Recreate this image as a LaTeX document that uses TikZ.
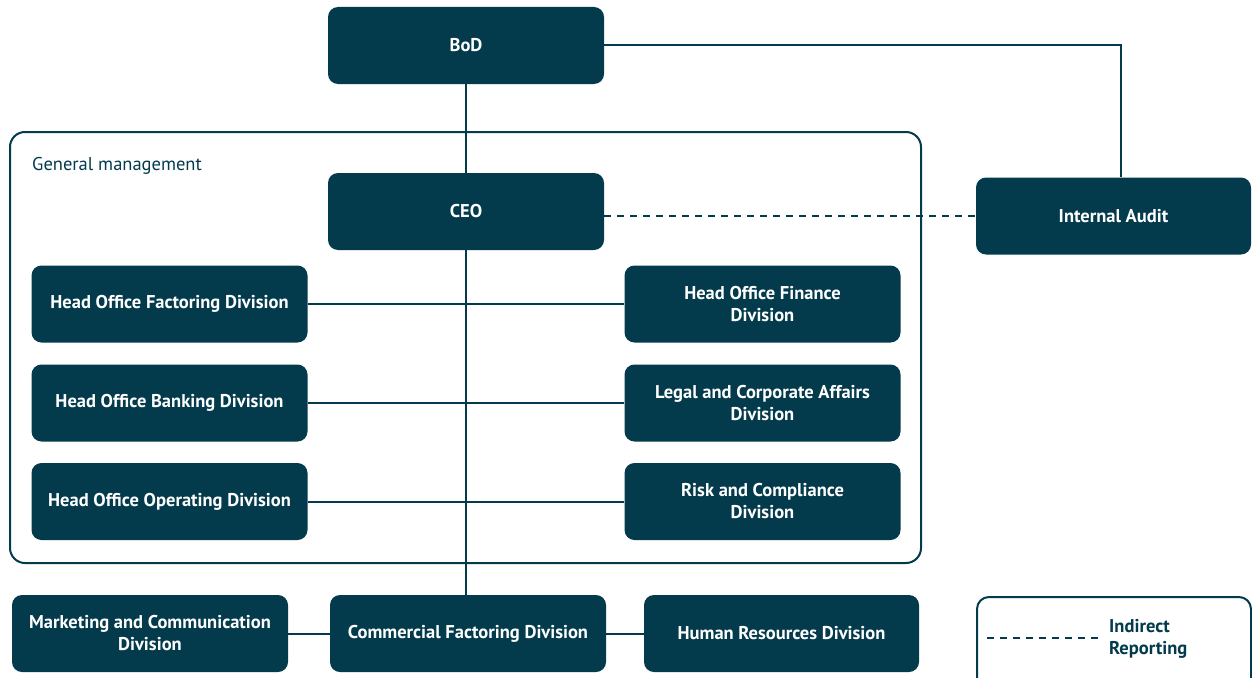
\documentclass[tikz,border=0pt]{standalone}
\usepackage{fontspec}
\setmainfont{PT Sans}
\usepackage{tikz}
\usetikzlibrary{positioning}
\definecolor{boxteal}{HTML}{033B4C}

\begin{document}
\begin{tikzpicture}[x=1pt, y=-1pt,
    unit/.style={rectangle, rounded corners=10pt, fill=boxteal, text=white, font=\fontsize{18.5}{22}\selectfont\bfseries,
                 minimum width=276pt, minimum height=77pt, align=center, inner sep=2pt},
    link/.style={draw=boxteal, line width=2pt},
    indirect/.style={draw=boxteal, line width=2pt, dash pattern=on 7pt off 6pt}]
    \useasboundingbox (0,0) rectangle (1252,677);
    % frame of the general management
    \draw[boxteal, line width=2pt, rounded corners=15pt] (10,132) rectangle (921,563);
    \node[anchor=west, text=boxteal, font=\fontsize{18.5}{22}\selectfont, inner sep=0pt] (gm) at (32,166) {General management};
    % top
    \node[unit] (bod) at (466,45.5) {BoD};
    \node[unit] (ceo) at (466,211.5) {CEO};
    \node[unit, minimum width=275pt] (audit) at (1113.5,216) {Internal Audit};
    % divisions
    \node[unit] (hofact) at (169.5,304) {Head Office Factoring Division};
    \node[unit] (hobank) at (169.5,403) {Head Office Banking Division};
    \node[unit] (hooper) at (169.5,501.5) {Head Office Operating Division};
    \node[unit] (hofin) at (762.5,304) {Head Office Finance\\Division};
    \node[unit] (legal) at (762.5,403) {Legal and Corporate Affairs\\Division};
    \node[unit] (risk) at (762.5,501.5) {Risk and Compliance\\Division};
    \node[unit] (mkt) at (150,633.5) {Marketing and Communication\\Division};
    \node[unit] (comfact) at (468,633.5) {Commercial Factoring Division};
    \node[unit, minimum width=275pt] (hr) at (781.5,633.5) {Human Resources Division};
    \coordinate (spine) at (466,0);
    \coordinate (auditup) at (1121,0);
    % links
    \draw[link] (bod.south) -- (ceo.north);
    \draw[link] (ceo.south) -- (spine |- comfact.north);
    \draw[link] (bod.east) -| (auditup |- audit.north);
    \draw[indirect] (ceo.east |- audit.west) -- (audit.west);
    \foreach \l/\r in {hofact/hofin, hobank/legal, hooper/risk} {
        \draw[link] (\l.east) -- (\r.west);
    }
    \draw[link] (mkt.east) -- (comfact.west);
    \draw[link] (comfact.east) -- (hr.west);
    % legend
    \draw[boxteal, line width=2pt, rounded corners=12pt, fill=white] (977,597) rectangle (1251,690);
    \coordinate (dashA) at (987,638);
    \coordinate (dashB) at (1098,638);
    \draw[indirect] (dashA) -- (dashB);
    \node[anchor=west, text=boxteal, align=left, font=\fontsize{18.5}{22}\selectfont\bfseries, inner sep=0pt] (legtext) at (1109,639) {Indirect\\Reporting};
\end{tikzpicture}
\end{document}
